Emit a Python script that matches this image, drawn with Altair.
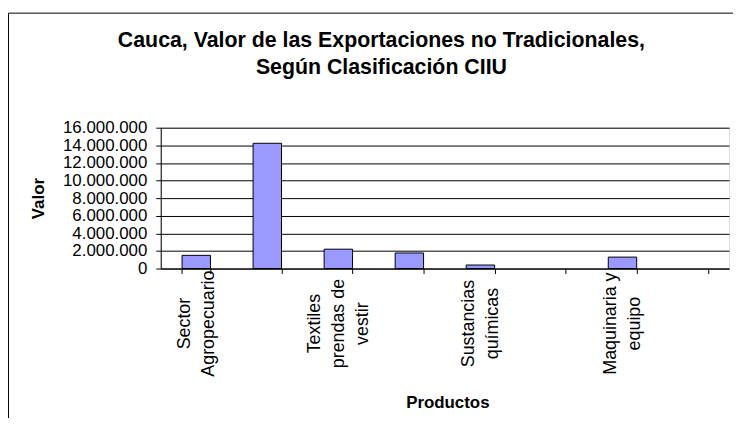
import altair as alt
import pandas as pd

# ---- data ----
categories = [
    "Sector Agropecuario",
    "Alimentos bebidas y tabaco",
    "Textiles prendas de vestir",
    "Papel y sus productos",
    "Sustancias químicas",
    "Minerales no metálicos",
    "Maquinaria y equipo",
    "Otras industrias",
]
values = [1500000, 14230000, 2200000, 1770000, 400000, 0, 1300000, 0]

# category labels that are printed on the axis (Excel skipped every other one)
shown_labels = {
    "Sector Agropecuario": ["Sector", "Agropecuario"],
    "Textiles prendas de vestir": ["Textiles", "prendas de", "vestir"],
    "Sustancias químicas": ["Sustancias", "químicas"],
    "Maquinaria y equipo": ["Maquinaria y", "equipo"],
}
y_ticks = list(range(0, 16000001, 2000000))
title_lines = [
    "Cauca, Valor de las Exportaciones no Tradicionales,",
    "Según Clasificación CIIU",
]
x_title = "Productos"
y_title = "Valor"

FONT = "Liberation Sans"
LINE_H = 24

df = pd.DataFrame({"Producto": categories, "Valor": values})


def js_list(lines):
    return "[" + ",".join("'" + s + "'" for s in lines) + "]"


label_expr = ""
for k, v in shown_labels.items():
    label_expr += f"datum.value == '{k}' ? {js_list(v)} : "
label_expr += "''"

three_line = [k for k, v in shown_labels.items() if len(v) == 3]
three_test = " || ".join(f"datum.value == '{k}'" for k in three_line)

y_label_expr = "replace(replace(format(datum.value, ','), ',', '.'), ',', '.')"

bars = (
    alt.Chart(df)
    .mark_bar(fill="#9999FF", stroke="#000000", strokeWidth=1)
    .encode(
        x=alt.X(
            "Producto:N",
            sort=categories,
            scale=alt.Scale(paddingInner=0.6, paddingOuter=0.3),
            axis=alt.Axis(
                title=x_title,
                labelExpr=label_expr,
                labelAngle=270,
                labelAlign="center",
                labelBaseline="middle",
                labelPadding=50,
                labelOffset={
                    "condition": {"test": three_test, "value": -LINE_H},
                    "value": -LINE_H / 2,
                },
                labelFontSize=18,
                labelLineHeight=LINE_H,
                labelFont=FONT,
                labelColor="#000000",
                labelOverlap=False,
                tickBand="extent",
                tickSize=5,
                tickColor="#000000",
                domainColor="#000000",
                titleFont=FONT,
                titleFontSize=17,
                titleFontWeight="bold",
                titleColor="#000000",
                titleY=135,
                titleX=289,
                titleBaseline="middle",
                grid=False,
            ),
        ),
        y=alt.Y(
            "Valor:Q",
            scale=alt.Scale(domain=[0, 16000000], nice=False),
            axis=alt.Axis(
                title=y_title,
                values=y_ticks,
                labelExpr=y_label_expr,
                labelFont=FONT,
                labelFontSize=17,
                labelColor="#000000",
                labelPadding=9,
                tickSize=5,
                tickColor="#000000",
                domainColor="#000000",
                grid=True,
                gridColor="#000000",
                gridOpacity=1,
                gridWidth=1,
                titleFont=FONT,
                titleFontSize=17,
                titleFontWeight="bold",
                titleColor="#000000",
                titleX=-123,
                titleY=71,
                titleAlign="center",
                titleBaseline="middle",
                titleAngle=270,
            ),
        ),
        strokeOpacity=alt.condition("datum.Valor == 0", alt.value(0), alt.value(1)),
    )
)

frame = (
    alt.Chart(pd.DataFrame({"f": [0]}))
    .mark_rect(fill=None, stroke="#000000", strokeWidth=1, clip=False)
    .encode(
        x=alt.value(-153.5),
        x2=alt.value(800),
        y=alt.value(-115.5),
        y2=alt.value(600),
    )
)

chart = (
    alt.layer(frame, bars)
    .properties(
        width=573,
        height=142,
        autosize=alt.AutoSizeParams(type="none"),
        padding={"left": 154, "top": 119, "right": 4, "bottom": 149},
        title=alt.TitleParams(
            text=title_lines,
            font=FONT,
            fontSize=21.5,
            fontWeight="bold",
            color="#000000",
            anchor="middle",
            frame="group",
            dx=-64,
            lineHeight=27,
            offset=-66,
        ),
    )
    .configure_view(fill="#C0C0C0", stroke="#808080", strokeWidth=1)
    .configure(background="#FFFFFF")
)

chart.save("out.html", embed_options={"renderer": "svg", "actions": False})
